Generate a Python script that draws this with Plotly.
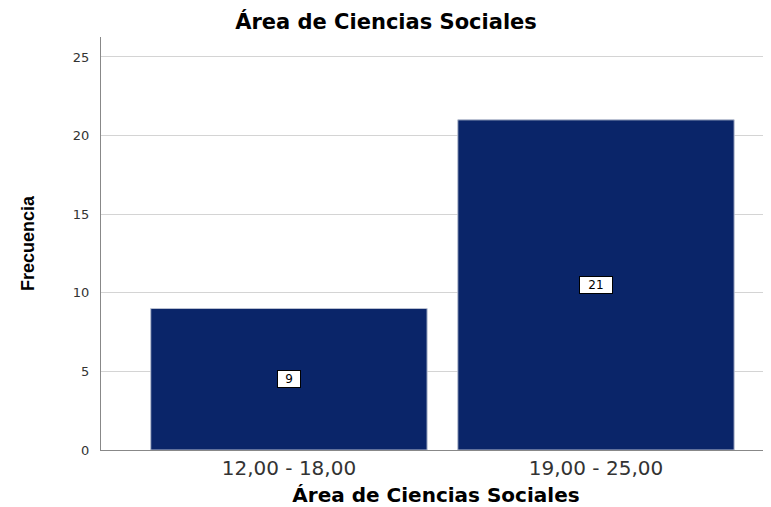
import plotly.graph_objects as go

categories = ["12,00 - 18,00", "19,00 - 25,00"]
values = [9, 21]
y_ticks = [0, 5, 10, 15, 20, 25]

xpos = list(range(len(categories)))

W, H = 763, 499  # page body has an 8px margin

fig = go.Figure()
fig.add_trace(go.Bar(
    x=xpos, y=values, width=0.9,
    marker=dict(color="#0a2569", line=dict(color="#b8bfd0", width=1)),
    hoverinfo="skip",
))

for xp, v in zip(xpos, values):
    fig.add_annotation(
        x=xp, y=v / 2, text=str(v), showarrow=False,
        font=dict(family="DejaVu Sans, sans-serif", size=12, color="black"),
        bgcolor="white", bordercolor="black", borderwidth=1, borderpad=1,
        width=10 * len(str(v)) + 10,
    )

fig.update_layout(
    width=W, height=H,
    margin=dict(l=93, r=0, t=29, b=57),
    paper_bgcolor="white", plot_bgcolor="white",
    showlegend=False,
    title=dict(text="<b>Área de Ciencias Sociales</b>", x=(386 - 8) / W, xref="container",
               xanchor="center", y=1 - 14 / H, yref="container", yanchor="middle",
               font=dict(family="DejaVu Sans, sans-serif", size=21, color="black")),
    font=dict(family="DejaVu Sans, sans-serif"),
)
fig.update_xaxes(
    range=[-0.612, 1.57], tickvals=xpos, ticktext=categories,
    tickfont=dict(size=20, color="#333333"),
    showline=True, linecolor="#888888", linewidth=1,
    showgrid=False, zeroline=False, ticks="",
    title=dict(text="<b>Área de Ciencias Sociales</b>", standoff=10,
               font=dict(size=20, color="black")),
)
fig.update_yaxes(
    range=[0, 26.27], tickvals=y_ticks,
    tickfont=dict(size=13, color="#333333"),
    showline=True, linecolor="#888888", linewidth=1,
    showgrid=True, gridcolor="#d4d4d4", gridwidth=1, zeroline=False,
    ticks="outside", ticklen=8, tickcolor="rgba(0,0,0,0)",
    title=dict(text="<b>Frecuencia</b>", standoff=33,
               font=dict(family="Liberation Sans, Arial, sans-serif",
                         size=18, color="black")),
)

fig.write_html("out.html")
